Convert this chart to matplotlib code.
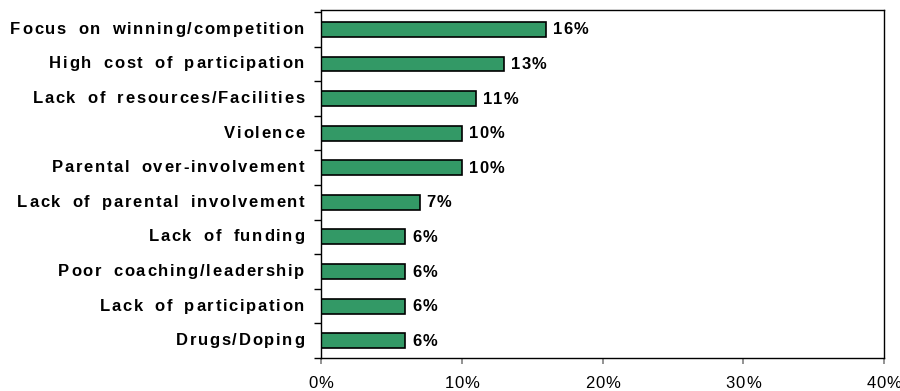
import numpy as np
import matplotlib.pyplot as plt
from matplotlib import font_manager, ft2font
from matplotlib.transforms import offset_copy
from matplotlib.ticker import FixedLocator

# issues, top to bottom, with share of responses (%)
issues = [
    "Focus on winning/competition",
    "High cost of participation",
    "Lack of resources/Facilities",
    "Violence",
    "Parental over-involvement",
    "Lack of parental involvement",
    "Lack of funding",
    "Poor coaching/leadership",
    "Lack of participation",
    "Drugs/Doping",
]
shares = [16, 13, 11, 10, 10, 7, 6, 6, 6, 6]
x_ticks = [0, 10, 20, 30, 40]

FAMILY = "Liberation Sans"
_fonts = {}


def advances(s, weight, size):
    # glyph advance widths in points
    if weight not in _fonts:
        fp = font_manager.FontProperties(family=FAMILY, weight=weight)
        _fonts[weight] = ft2font.FT2Font(font_manager.findfont(fp))
    font = _fonts[weight]
    font.set_size(size, 72)
    return [font.load_char(ord(c)).linearHoriAdvance / 65536 for c in s]


def spaced_text(ax, x, y, s, trans, dx=0, dy=0, ha="left", size=12,
                weight="normal", tracking=1.0, space_extra=0.0):
    # draw text with extra letter spacing, one glyph at a time
    adv = [a + (space_extra if c == " " else 0)
           for c, a in zip(s, advances(s, weight, size))]
    total = sum(adv) + tracking * (len(s) - 1)
    pos = {"left": 0, "center": -total / 2, "right": -total}[ha]
    for c, a in zip(s, adv):
        if c != " ":
            t = offset_copy(trans, fig=ax.figure, x=dx + pos, y=dy, units="points")
            ax.text(x, y, c, transform=t, ha="left", va="baseline",
                    fontsize=size, fontweight=weight, family=FAMILY)
        pos += a + tracking


fig = plt.figure(figsize=(9, 3.91), dpi=100)
ax = fig.add_axes([0.3567, 0.0844, 0.6255, 0.89])

n = len(issues)
y = np.arange(n)[::-1]
ax.barh(y, shares, height=0.43, color="#339966", edgecolor="black", linewidth=1.2)

ax.set_xlim(0, 40)
ax.set_ylim(-0.5, n - 0.44)

# value labels next to bar ends
for yi, v in zip(y, shares):
    spaced_text(ax, v, yi, f"{v}%", ax.transData, dx=5, dy=-3.6,
                size=12, weight="bold", tracking=0.8)

# category labels, right-aligned against the axis
ytrans = ax.get_yaxis_transform()
for yi, name in zip(y, issues):
    spaced_text(ax, 0, yi, name, ytrans, dx=-12, dy=-3.2, ha="right",
                size=12, weight="bold", tracking=1.2, space_extra=3)

# percentage axis labels
xtrans = ax.get_xaxis_transform()
for xt in x_ticks:
    spaced_text(ax, xt, 0, f"{xt}%", xtrans, dy=-21.6, ha="center",
                size=12, weight="normal", tracking=0.6)

ax.set_xticks(x_ticks)
ax.set_xticklabels([])
ax.set_yticks([])
ax.yaxis.set_minor_locator(FixedLocator(np.arange(n + 1) - 0.5))
ax.tick_params(axis="y", which="minor", length=5, width=1)
ax.tick_params(axis="x", length=4, width=1.2, color="#808080")

for s in ax.spines.values():
    s.set_linewidth(1)

fig.savefig("out.png", dpi=100)
